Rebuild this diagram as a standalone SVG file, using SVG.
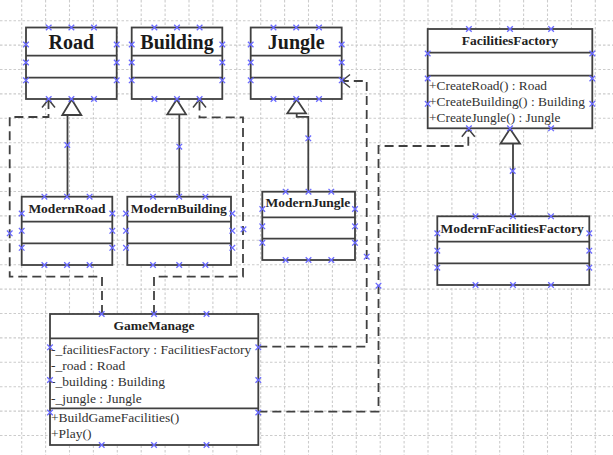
<svg xmlns="http://www.w3.org/2000/svg" xmlns:xlink="http://www.w3.org/1999/xlink" width="613" height="455" viewBox="0 0 613 455">
<style>
.grid{fill:none;stroke:#cccccc;stroke-width:1.1;stroke-dasharray:2.5 2}
.box{fill:#fff;stroke:#404040;stroke-width:1.8}
.sep{stroke:#404040;stroke-width:1.8}
.big{font-family:"Liberation Serif","Times New Roman",serif;font-weight:bold;font-size:20px;fill:#1a1a1a;text-anchor:middle}
.ttl{font-family:"Liberation Serif","Times New Roman",serif;font-weight:bold;font-size:13.5px;fill:#222;text-anchor:middle}
.txt{font-family:"Liberation Serif","Times New Roman",serif;font-size:13.5px;fill:#333}
.dep{fill:none;stroke:#404040;stroke-width:1.8;stroke-dasharray:9 5}
.inh{fill:none;stroke:#404040;stroke-width:1.8}
.tri{fill:#fff;stroke:#404040;stroke-width:1.8}
.hx{fill:none;stroke:#6a6aff;stroke-width:1.3}
</style>
<defs>
<path id="x" d="M-2.8,-2.8L2.8,2.8M-2.8,2.8L2.8,-2.8"/>
<marker id="open" markerUnits="userSpaceOnUse" viewBox="-10 -8 12 16" refX="0" refY="0" markerWidth="12" markerHeight="16" orient="auto">
<path d="M-8,-6.5L0,0L-8,6.5" fill="none" stroke="#404040" stroke-width="1.5"/>
</marker>
</defs>
<rect width="613" height="455" fill="#fff"/>
<path class="grid" d="M21.7 0V455M45.6 0V455M69.5 0V455M93.4 0V455M117.3 0V455M141.2 0V455M165.1 0V455M189 0V455M212.9 0V455M236.8 0V455M260.7 0V455M284.6 0V455M308.5 0V455M332.4 0V455M356.3 0V455M380.2 0V455M404.1 0V455M428 0V455M451.9 0V455M475.8 0V455M499.7 0V455M523.6 0V455M547.5 0V455M571.4 0V455M595.3 0V455M0 20.7H613M0 45.1H613M0 69.5H613M0 93.9H613M0 118.3H613M0 142.7H613M0 167.1H613M0 191.5H613M0 215.9H613M0 240.3H613M0 264.7H613M0 289.1H613M0 313.5H613M0 337.9H613M0 362.3H613M0 386.7H613M0 411.1H613M0 435.5H613"/>

<g id="connectors">
<path class="dep" d="M102 314V276.7H9.7V117H48.5V99.5" marker-end="url(#open)"/>
<path class="dep" d="M154 314V276.7H243V117.3H199.5V99.5" marker-end="url(#open)"/>
<path class="dep" d="M258.3 346.7H366.7V81H342" marker-end="url(#open)"/>
<path class="dep" d="M258.3 411.7H378.5V146H468.3V128.8" marker-end="url(#open)"/>
<path class="inh" d="M67.5 115V196.7"/>
<path class="tri" d="M71.7 99.5L81.3 115H62.3Z"/>
<path class="inh" d="M179.3 114.3V196.7"/>
<path class="tri" d="M176.7 99.5L186 114.3H167.3Z"/>
<path class="inh" d="M296.7 113.3V116.8H308.3V191.7"/>
<path class="tri" d="M296.7 99.5L306 113.3H287.3Z"/>
<path class="inh" d="M513 143.5V216.3"/>
<path class="tri" d="M510 128.8L520 143.5H500.5Z"/>
<g class="hx">
<use href="#x" x="67.3" y="145"/><use href="#x" x="179.3" y="146.7"/><use href="#x" x="308.3" y="138.3"/><use href="#x" x="512.7" y="171"/>
<use href="#x" x="9.7" y="233.3"/><use href="#x" x="243.5" y="229.3"/><use href="#x" x="366.7" y="256.7"/><use href="#x" x="378.5" y="285.7"/>
</g>
</g>

<g id="Road">
<rect class="box" x="26" y="27.5" width="90.7" height="71.5"/>
<path class="sep" d="M26 55.7H116.7M26 77.7H116.7"/>
<text class="big" x="71.3" y="48.5">Road</text>
<g class="hx"><use href="#x" x="48.7" y="27.5"/><use href="#x" x="71.4" y="27.5"/><use href="#x" x="94" y="27.5"/><use href="#x" x="48.7" y="99"/><use href="#x" x="71.4" y="99"/><use href="#x" x="94" y="99"/><use href="#x" x="26" y="44.5"/><use href="#x" x="26" y="62.5"/><use href="#x" x="26" y="80.3"/><use href="#x" x="116.7" y="44.5"/><use href="#x" x="116.7" y="62.5"/><use href="#x" x="116.7" y="80.3"/></g>
</g>

<g id="Building">
<rect class="box" x="131.7" y="27.5" width="90.6" height="71.5"/>
<path class="sep" d="M131.7 55.7H222.3M131.7 77.7H222.3"/>
<text class="big" x="177" y="48.5">Building</text>
<g class="hx"><use href="#x" x="154.4" y="27.5"/><use href="#x" x="177" y="27.5"/><use href="#x" x="199.6" y="27.5"/><use href="#x" x="154.4" y="99"/><use href="#x" x="177" y="99"/><use href="#x" x="199.6" y="99"/><use href="#x" x="131.7" y="44.5"/><use href="#x" x="131.7" y="62.5"/><use href="#x" x="131.7" y="80.3"/><use href="#x" x="222.3" y="44.5"/><use href="#x" x="222.3" y="62.5"/><use href="#x" x="222.3" y="80.3"/></g>
</g>

<g id="Jungle">
<rect class="box" x="250.7" y="27.5" width="91" height="71.5"/>
<path class="sep" d="M250.7 55.7H341.7M250.7 77.7H341.7"/>
<text class="big" x="296.2" y="48.5">Jungle</text>
<g class="hx"><use href="#x" x="273.5" y="27.5"/><use href="#x" x="296.2" y="27.5"/><use href="#x" x="319" y="27.5"/><use href="#x" x="273.5" y="99"/><use href="#x" x="296.2" y="99"/><use href="#x" x="319" y="99"/><use href="#x" x="250.7" y="44.5"/><use href="#x" x="250.7" y="62.5"/><use href="#x" x="250.7" y="80.3"/><use href="#x" x="341.7" y="44.5"/><use href="#x" x="341.7" y="62.5"/><use href="#x" x="341.7" y="80.3"/></g>
</g>

<g id="FacilitiesFactory">
<rect class="box" x="427.7" y="29" width="164.6" height="99.3"/>
<path class="sep" d="M427.7 52.7H592.3M427.7 75.7H592.3"/>
<text class="ttl" x="510" y="45">FacilitiesFactory</text>
<text class="txt" x="429" y="89.5" textLength="118" lengthAdjust="spacingAndGlyphs">+CreateRoad() : Road</text>
<text class="txt" x="429" y="106" textLength="156" lengthAdjust="spacingAndGlyphs">+CreateBuilding() : Building</text>
<text class="txt" x="429" y="122" textLength="131.5" lengthAdjust="spacingAndGlyphs">+CreateJungle() : Jungle</text>
<g class="hx"><use href="#x" x="468.9" y="29"/><use href="#x" x="510" y="29"/><use href="#x" x="551.1" y="29"/><use href="#x" x="468.9" y="128.3"/><use href="#x" x="510" y="128.3"/><use href="#x" x="551.1" y="128.3"/><use href="#x" x="427.7" y="53.5"/><use href="#x" x="427.7" y="78.5"/><use href="#x" x="427.7" y="103.8"/><use href="#x" x="592.3" y="53.5"/><use href="#x" x="592.3" y="78.5"/><use href="#x" x="592.3" y="103.8"/></g>
</g>

<g id="ModernRoad">
<rect class="box" x="21.7" y="196.7" width="90.6" height="68.3"/>
<path class="sep" d="M21.7 221.7H112.3M21.7 243.3H112.3"/>
<text class="ttl" x="67" y="213">ModernRoad</text>
<g class="hx"><use href="#x" x="44.4" y="196.7"/><use href="#x" x="67" y="196.7"/><use href="#x" x="89.6" y="196.7"/><use href="#x" x="44.4" y="265"/><use href="#x" x="67" y="265"/><use href="#x" x="89.6" y="265"/><use href="#x" x="21.7" y="213.5"/><use href="#x" x="21.7" y="230.8"/><use href="#x" x="21.7" y="247.8"/><use href="#x" x="112.3" y="213.5"/><use href="#x" x="112.3" y="230.8"/><use href="#x" x="112.3" y="247.8"/></g>
</g>

<g id="ModernBuilding">
<rect class="box" x="127.3" y="196.7" width="103.7" height="68.3"/>
<path class="sep" d="M127.3 221.7H231M127.3 243.3H231"/>
<text class="ttl" x="178.8" y="213">ModernBuilding</text>
<g class="hx"><use href="#x" x="153" y="196.7"/><use href="#x" x="179.2" y="196.7"/><use href="#x" x="205.4" y="196.7"/><use href="#x" x="153" y="265"/><use href="#x" x="179.2" y="265"/><use href="#x" x="205.4" y="265"/><use href="#x" x="126" y="213.5"/><use href="#x" x="126" y="230.8"/><use href="#x" x="126" y="247.8"/><use href="#x" x="232.3" y="213.5"/><use href="#x" x="232.3" y="230.8"/><use href="#x" x="232.3" y="247.8"/></g>
</g>

<g id="ModernJungle">
<rect class="box" x="262.3" y="191.7" width="92.7" height="68.3"/>
<path class="sep" d="M262.3 217.3H355M262.3 238.7H355"/>
<text class="ttl" x="308" y="207">ModernJungle</text>
<g class="hx"><use href="#x" x="285.6" y="191.7"/><use href="#x" x="308.5" y="191.7"/><use href="#x" x="331.3" y="191.7"/><use href="#x" x="285.6" y="260"/><use href="#x" x="308.5" y="260"/><use href="#x" x="331.3" y="260"/><use href="#x" x="262.3" y="209"/><use href="#x" x="262.3" y="226.3"/><use href="#x" x="262.3" y="242.8"/><use href="#x" x="355" y="209"/><use href="#x" x="355" y="226.3"/><use href="#x" x="355" y="242.8"/></g>
</g>

<g id="ModernFacilitiesFactory">
<rect class="box" x="437.3" y="216.3" width="152" height="68.7"/>
<path class="sep" d="M437.3 241.7H589.3M437.3 263.3H589.3"/>
<text class="ttl" x="512.2" y="232.5">ModernFacilitiesFactory</text>
<g class="hx"><use href="#x" x="475.5" y="216.3"/><use href="#x" x="513" y="216.3"/><use href="#x" x="551" y="216.3"/><use href="#x" x="475.5" y="285"/><use href="#x" x="513" y="285"/><use href="#x" x="551" y="285"/><use href="#x" x="437.3" y="233.3"/><use href="#x" x="437.3" y="250.7"/><use href="#x" x="437.3" y="267.7"/><use href="#x" x="589.3" y="233.3"/><use href="#x" x="589.3" y="250.7"/><use href="#x" x="589.3" y="267.7"/></g>
</g>

<g id="GameManage">
<rect class="box" x="50" y="314" width="208.3" height="131"/>
<path class="sep" d="M50 338.3H258.3M50 408.3H258.3"/>
<text class="ttl" x="154" y="329.5">GameManage</text>
<text class="txt" x="51" y="353.5">-_facilitiesFactory : FacilitiesFactory</text>
<text class="txt" x="51" y="369.5">-_road : Road</text>
<text class="txt" x="51" y="386">-_building : Building</text>
<text class="txt" x="51" y="402.7">-_jungle : Jungle</text>
<text class="txt" x="51" y="421.7">+BuildGameFacilities()</text>
<text class="txt" x="51" y="438.3">+Play()</text>
<g class="hx"><use href="#x" x="101.7" y="314"/><use href="#x" x="154" y="314"/><use href="#x" x="206.5" y="314"/><use href="#x" x="101.7" y="445"/><use href="#x" x="154" y="445"/><use href="#x" x="206.5" y="445"/><use href="#x" x="50" y="347.3"/><use href="#x" x="50" y="380"/><use href="#x" x="50" y="412.5"/><use href="#x" x="258.3" y="347.3"/><use href="#x" x="258.3" y="380"/><use href="#x" x="258.3" y="412.5"/></g>
</g>
</svg>
